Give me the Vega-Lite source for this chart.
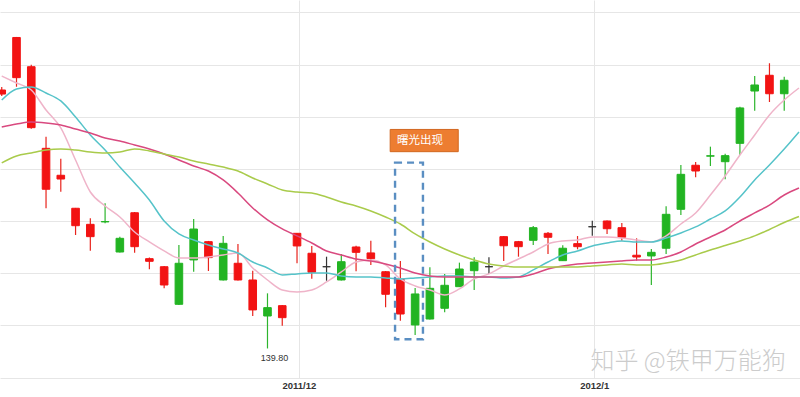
{
  "$schema": "https://vega.github.io/schema/vega-lite/v6.json",
  "width": 800,
  "height": 378,
  "padding": {"left": 0, "top": 0, "right": 0, "bottom": 19},
  "autosize": {"type": "none"},
  "background": "white",
  "config": {
    "view": {"stroke": null},
    "axis": {"domain": false, "ticks": false, "gridColor": "#e6e6e6", "gridWidth": 1, "labelFont": "Liberation Sans"}
  },
  "datasets": {
    "k": [
      {"day": 0, "open": 164.56, "high": 164.84, "low": 163.98, "close": 164.17, "ma5": 165.90, "ma10": 163.60, "ma20": 161.02, "ma30": 157.57},
      {"day": 1, "open": 169.59, "high": 169.64, "low": 164.87, "close": 165.74, "ma5": 165.23, "ma10": 164.66, "ma20": 161.30, "ma30": 158.24},
      {"day": 2, "open": 166.79, "high": 166.98, "low": 160.85, "close": 160.95, "ma5": 164.56, "ma10": 164.85, "ma20": 161.49, "ma30": 158.53},
      {"day": 3, "open": 158.97, "high": 160.09, "low": 153.23, "close": 155.05, "ma5": 162.64, "ma10": 164.27, "ma20": 161.40, "ma30": 158.81},
      {"day": 4, "open": 156.39, "high": 157.98, "low": 154.82, "close": 156.03, "ma5": 160.92, "ma10": 163.51, "ma20": 161.21, "ma30": 158.91},
      {"day": 5, "open": 153.23, "high": 153.26, "low": 150.67, "close": 151.56, "ma5": 157.85, "ma10": 161.97, "ma20": 160.82, "ma30": 158.81},
      {"day": 6, "open": 151.69, "high": 152.27, "low": 149.17, "close": 150.51, "ma5": 154.79, "ma10": 160.25, "ma20": 160.44, "ma30": 158.62},
      {"day": 7, "open": 151.92, "high": 153.71, "low": 151.79, "close": 151.96, "ma5": 153.45, "ma10": 158.81, "ma20": 159.96, "ma30": 158.53},
      {"day": 8, "open": 149.04, "high": 150.51, "low": 149.00, "close": 150.35, "ma5": 152.39, "ma10": 157.18, "ma20": 159.67, "ma30": 158.62},
      {"day": 9, "open": 152.80, "high": 152.87, "low": 148.97, "close": 149.55, "ma5": 150.96, "ma10": 155.65, "ma20": 159.29, "ma30": 158.91},
      {"day": 10, "open": 148.40, "high": 148.51, "low": 147.38, "close": 148.15, "ma5": 150.00, "ma10": 154.02, "ma20": 158.91, "ma30": 158.72},
      {"day": 11, "open": 147.63, "high": 147.70, "low": 145.56, "close": 145.88, "ma5": 149.14, "ma10": 152.01, "ma20": 158.43, "ma30": 158.43},
      {"day": 12, "open": 144.03, "high": 149.71, "low": 143.96, "close": 147.96, "ma5": 148.47, "ma10": 150.77, "ma20": 157.85, "ma30": 158.14},
      {"day": 13, "open": 148.28, "high": 152.20, "low": 147.15, "close": 151.24, "ma5": 148.47, "ma10": 150.19, "ma20": 157.28, "ma30": 157.76},
      {"day": 14, "open": 150.03, "high": 150.10, "low": 147.22, "close": 148.50, "ma5": 148.56, "ma10": 149.71, "ma20": 156.80, "ma30": 157.47},
      {"day": 15, "open": 146.36, "high": 150.57, "low": 146.31, "close": 149.87, "ma5": 148.76, "ma10": 149.33, "ma20": 155.94, "ma30": 157.18},
      {"day": 16, "open": 147.96, "high": 149.81, "low": 146.31, "close": 146.36, "ma5": 148.95, "ma10": 148.95, "ma20": 154.69, "ma30": 156.80},
      {"day": 17, "open": 146.36, "high": 147.25, "low": 142.91, "close": 143.49, "ma5": 147.51, "ma10": 148.08, "ma20": 153.26, "ma30": 156.13},
      {"day": 18, "open": 142.91, "high": 145.08, "low": 139.80, "close": 143.71, "ma5": 146.36, "ma10": 147.51, "ma20": 152.11, "ma30": 155.56},
      {"day": 19, "open": 143.90, "high": 143.96, "low": 141.98, "close": 142.75, "ma5": 145.40, "ma10": 146.84, "ma20": 151.25, "ma30": 154.98},
      {"day": 20, "open": 150.83, "high": 150.86, "low": 147.96, "close": 149.62, "ma5": 145.21, "ma10": 146.94, "ma20": 150.58, "ma30": 154.79},
      {"day": 21, "open": 148.92, "high": 149.62, "low": 146.48, "close": 147.10, "ma5": 145.40, "ma10": 147.03, "ma20": 149.90, "ma30": 154.69},
      {"day": 22, "open": 147.63, "high": 148.59, "low": 146.29, "close": 147.63, "ma5": 146.17, "ma10": 147.03, "ma20": 149.14, "ma30": 154.31},
      {"day": 23, "open": 146.36, "high": 148.85, "low": 146.31, "close": 148.11, "ma5": 147.13, "ma10": 146.74, "ma20": 148.76, "ma30": 153.83},
      {"day": 24, "open": 149.52, "high": 149.64, "low": 147.19, "close": 149.01, "ma5": 148.08, "ma10": 146.65, "ma20": 148.37, "ma30": 153.45},
      {"day": 25, "open": 148.95, "high": 150.12, "low": 147.80, "close": 148.40, "ma5": 148.28, "ma10": 146.65, "ma20": 148.18, "ma30": 152.97},
      {"day": 26, "open": 147.15, "high": 147.22, "low": 143.74, "close": 144.99, "ma5": 147.80, "ma10": 146.55, "ma20": 147.89, "ma30": 152.39},
      {"day": 27, "open": 146.43, "high": 148.18, "low": 142.46, "close": 143.10, "ma5": 146.46, "ma10": 146.46, "ma20": 147.51, "ma30": 151.72},
      {"day": 28, "open": 142.05, "high": 145.59, "low": 141.09, "close": 145.02, "ma5": 145.79, "ma10": 146.55, "ma20": 147.03, "ma30": 150.77},
      {"day": 29, "open": 142.62, "high": 147.58, "low": 142.57, "close": 145.56, "ma5": 145.40, "ma10": 146.65, "ma20": 146.74, "ma30": 150.00},
      {"day": 30, "open": 143.65, "high": 146.93, "low": 143.26, "close": 145.85, "ma5": 144.92, "ma10": 146.74, "ma20": 146.65, "ma30": 149.33},
      {"day": 31, "open": 145.72, "high": 148.02, "low": 145.69, "close": 147.41, "ma5": 145.50, "ma10": 146.74, "ma20": 146.65, "ma30": 148.76},
      {"day": 32, "open": 147.25, "high": 148.53, "low": 145.40, "close": 148.08, "ma5": 146.46, "ma10": 146.65, "ma20": 146.65, "ma30": 148.28},
      {"day": 33, "open": 147.63, "high": 148.53, "low": 146.93, "close": 147.63, "ma5": 146.94, "ma10": 146.65, "ma20": 146.65, "ma30": 147.89},
      {"day": 34, "open": 150.51, "high": 150.57, "low": 148.18, "close": 149.64, "ma5": 147.70, "ma10": 146.55, "ma20": 146.65, "ma30": 147.70},
      {"day": 35, "open": 150.03, "high": 150.10, "low": 148.59, "close": 149.55, "ma5": 148.37, "ma10": 146.65, "ma20": 146.65, "ma30": 147.61},
      {"day": 36, "open": 150.16, "high": 151.53, "low": 149.71, "close": 151.37, "ma5": 149.04, "ma10": 147.32, "ma20": 146.94, "ma30": 147.61},
      {"day": 37, "open": 150.83, "high": 150.96, "low": 148.85, "close": 150.45, "ma5": 149.81, "ma10": 148.08, "ma20": 147.41, "ma30": 147.61},
      {"day": 38, "open": 148.21, "high": 149.68, "low": 148.18, "close": 149.40, "ma5": 150.10, "ma10": 148.76, "ma20": 147.70, "ma30": 147.61},
      {"day": 39, "open": 149.84, "high": 150.57, "low": 149.30, "close": 149.55, "ma5": 150.19, "ma10": 149.14, "ma20": 147.89, "ma30": 147.61},
      {"day": 40, "open": 151.46, "high": 152.04, "low": 150.60, "close": 151.46, "ma5": 150.48, "ma10": 149.62, "ma20": 147.99, "ma30": 147.70},
      {"day": 41, "open": 152.01, "high": 152.06, "low": 150.77, "close": 151.27, "ma5": 150.48, "ma10": 149.90, "ma20": 148.08, "ma30": 147.80},
      {"day": 42, "open": 151.37, "high": 151.82, "low": 150.12, "close": 150.45, "ma5": 150.38, "ma10": 150.10, "ma20": 148.18, "ma30": 147.89},
      {"day": 43, "open": 148.73, "high": 150.35, "low": 148.21, "close": 148.56, "ma5": 150.19, "ma10": 150.00, "ma20": 148.28, "ma30": 147.80},
      {"day": 44, "open": 148.66, "high": 149.33, "low": 145.88, "close": 149.01, "ma5": 150.00, "ma10": 150.00, "ma20": 148.28, "ma30": 147.80},
      {"day": 45, "open": 149.40, "high": 153.42, "low": 148.85, "close": 152.65, "ma5": 150.58, "ma10": 150.38, "ma20": 148.56, "ma30": 147.99},
      {"day": 46, "open": 153.13, "high": 157.37, "low": 152.59, "close": 156.48, "ma5": 151.72, "ma10": 150.86, "ma20": 149.04, "ma30": 148.28},
      {"day": 47, "open": 157.35, "high": 157.66, "low": 156.20, "close": 156.80, "ma5": 152.78, "ma10": 151.44, "ma20": 149.81, "ma30": 148.76},
      {"day": 48, "open": 158.22, "high": 159.13, "low": 157.28, "close": 158.26, "ma5": 154.50, "ma10": 152.20, "ma20": 150.48, "ma30": 149.23},
      {"day": 49, "open": 157.69, "high": 158.46, "low": 156.01, "close": 158.27, "ma5": 156.32, "ma10": 152.97, "ma20": 151.15, "ma30": 149.67},
      {"day": 50, "open": 159.45, "high": 162.96, "low": 158.33, "close": 162.84, "ma5": 158.33, "ma10": 154.31, "ma20": 152.01, "ma30": 150.10},
      {"day": 51, "open": 164.46, "high": 165.90, "low": 162.58, "close": 165.04, "ma5": 160.25, "ma10": 155.94, "ma20": 152.78, "ma30": 150.58},
      {"day": 52, "open": 165.97, "high": 167.12, "low": 163.41, "close": 164.20, "ma5": 162.17, "ma10": 157.38, "ma20": 153.54, "ma30": 151.20},
      {"day": 53, "open": 164.20, "high": 165.83, "low": 162.58, "close": 165.49, "ma5": 163.60, "ma10": 158.91, "ma20": 154.50, "ma30": 151.87},
      {"day": 54, "open": null, "high": null, "low": null, "close": null, "ma5": 164.75, "ma10": 160.54, "ma20": 155.17, "ma30": 152.44}
    ]
  },
  "data": {"name": "k"},
  "layer": [
    {
      "transform": [{"filter": "isValid(datum.open)"}],
      "mark": {"type": "rule", "strokeWidth": 1.2, "clip": true},
      "encoding": {
        "x": {"field": "day", "type": "quantitative", "scale": {"domain": [0.2207, 53.73], "nice": false, "zero": false},
              "axis": {"values": [20.12, 40.13], "title": null, "grid": true, "labelExpr": "datum.value < 30 ? '2011/12' : '2012/1'", "labelFontSize": 9.5, "labelFontWeight": "bold", "labelColor": "#333333", "labelPadding": 2}},
        "y": {"field": "low", "type": "quantitative", "scale": {"domain": [136.97, 173.18], "nice": false, "zero": false},
              "axis": {"values": [137, 142, 147, 152, 157, 162, 167, 172], "labels": false, "title": null, "grid": true}},
        "y2": {"field": "high"},
        "color": {"condition": [{"test": "datum.close > datum.open", "value": "#2db52d"}, {"test": "datum.close < datum.open", "value": "#e8231c"}], "value": "#333333"}
      }
    },
    {
      "transform": [{"filter": "isValid(datum.open)"}],
      "mark": {"type": "bar", "size": 7.6, "strokeWidth": 1, "clip": true},
      "encoding": {
        "x": {"field": "day", "type": "quantitative", "title": null},
        "y": {"field": "open", "type": "quantitative", "title": null},
        "y2": {"field": "close"},
        "color": {"condition": [{"test": "datum.close > datum.open", "value": "#22b422"}, {"test": "datum.close < datum.open", "value": "#f21313"}], "value": "#333333"},
        "stroke": {"condition": [{"test": "datum.close > datum.open", "value": "#22b422"}, {"test": "datum.close < datum.open", "value": "#f21313"}], "value": "#333333"}
      }
    },
    {
      "transform": [{"fold": ["ma5", "ma10", "ma20", "ma30"], "as": ["ma", "value"]}],
      "mark": {"type": "line", "strokeWidth": 1.5, "interpolate": "monotone", "clip": true},
      "encoding": {
        "x": {"field": "day", "type": "quantitative", "title": null},
        "y": {"field": "value", "type": "quantitative", "title": null},
        "color": {"field": "ma", "type": "nominal", "legend": null,
                  "scale": {"domain": ["ma5", "ma10", "ma20", "ma30"], "range": ["#efb4c9", "#55c3c9", "#d9497f", "#a9cb4b"]}},
        "order": {"field": "day", "type": "quantitative"}
      }
    },
    {
      "transform": [{"filter": "datum.low == 139.8"}],
      "mark": {"type": "text", "dx": 7, "dy": 6, "baseline": "top", "align": "center", "fontSize": 9, "font": "Liberation Sans", "color": "#333333"},
      "encoding": {
        "x": {"field": "day", "type": "quantitative", "title": null},
        "y": {"field": "low", "type": "quantitative", "title": null},
        "text": {"field": "low", "type": "quantitative", "format": ".2f"}
      }
    },
    {
      "data": {"values": [{"label": "曙光出现", "day_start": 26.31, "day_end": 30.92, "price_low": 158.65, "price_high": 160.78, "label_day": 26.77, "label_price": 159.68}]},
      "layer": [
        {
          "mark": {"type": "rect", "fill": "#ed7d31", "stroke": "#d2671f", "strokeWidth": 1},
          "encoding": {
            "x": {"field": "day_start", "type": "quantitative", "title": null},
            "x2": {"field": "day_end"},
            "y": {"field": "price_low", "type": "quantitative", "title": null},
            "y2": {"field": "price_high"}
          }
        },
        {
          "mark": {"type": "text", "align": "left", "baseline": "middle", "fontSize": 11.5, "font": "Noto Sans CJK SC", "color": "#ffffff"},
          "encoding": {
            "x": {"field": "label_day", "type": "quantitative", "title": null},
            "y": {"field": "label_price", "type": "quantitative", "title": null},
            "text": {"field": "label"}
          }
        }
      ]
    },
    {
      "data": {"values": [{"day_start": 26.64, "day_end": 28.53, "price_low": 140.68, "price_high": 157.60}]},
      "mark": {"type": "rect", "fill": "#ffffff", "fillOpacity": 0, "stroke": "#5a8ec2", "strokeWidth": 2.4, "strokeDash": [7, 5]},
      "encoding": {
        "x": {"field": "day_start", "type": "quantitative", "title": null},
        "x2": {"field": "day_end"},
        "y": {"field": "price_low", "type": "quantitative", "title": null},
        "y2": {"field": "price_high"}
      }
    },
    {
      "data": {"values": [{"mark_text": "知乎 @铁甲万能狗", "day": 53.1, "price": 138.51}]},
      "mark": {"type": "text", "align": "right", "baseline": "middle", "fontSize": 24, "font": "Noto Sans CJK SC", "fontWeight": 300, "color": "#cccccc"},
      "encoding": {
        "x": {"field": "day", "type": "quantitative", "title": null},
        "y": {"field": "price", "type": "quantitative", "title": null},
        "text": {"field": "mark_text"}
      }
    }
  ]
}
